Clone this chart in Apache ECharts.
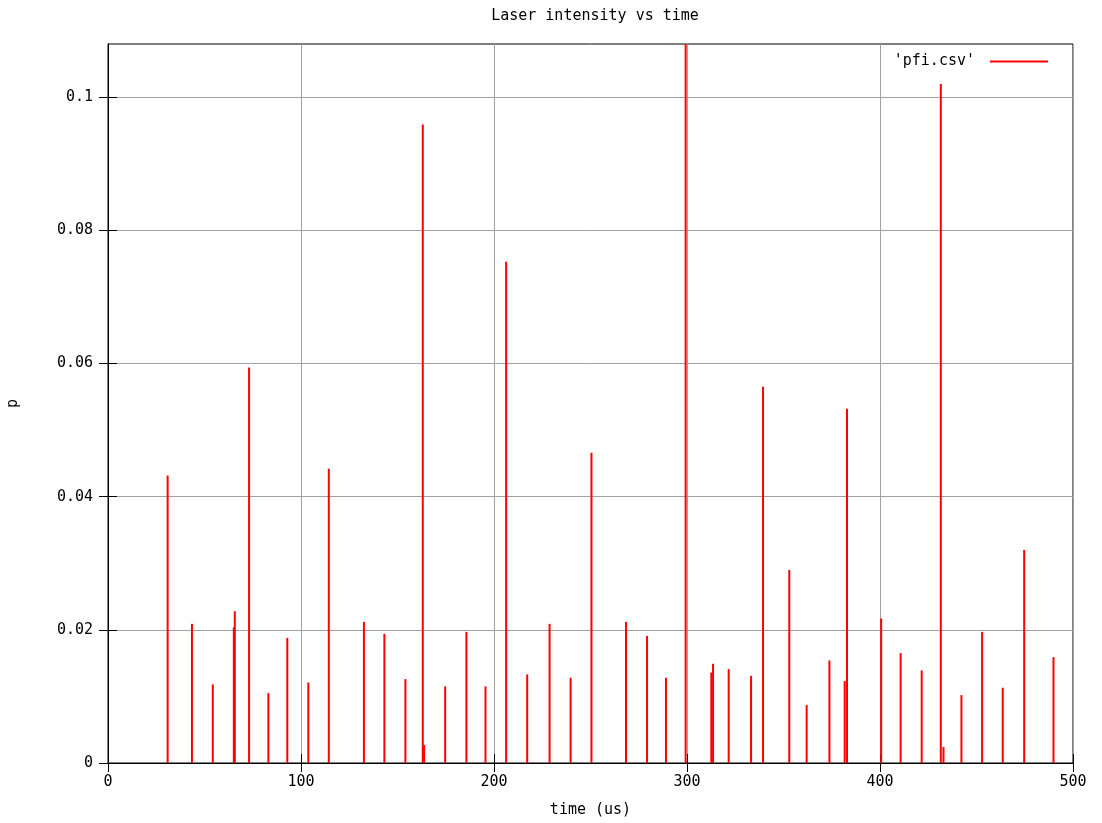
<!DOCTYPE html>
<html>
<head>
<meta charset="utf-8">
<script src="https://cdn.jsdelivr.net/npm/echarts@6/dist/echarts.min.js"></script>
<style>html,body{margin:0;padding:0;background:#fff;}#c{width:1102px;height:823px;}</style>
</head>
<body>
<div id="c"></div>
<script>
const times = [30.9, 43.5, 54.3, 65.2, 65.7, 73.1, 83.1, 92.9, 103.8, 114.4, 132.6, 143.2, 154.1, 163.1, 163.8, 174.7,
  185.7, 195.6, 206.3, 217.2, 228.8, 239.7, 250.5, 268.4, 279.3, 289.1, 299.3, 312.6, 313.5, 321.6, 333.2, 339.4,
  353.0, 362.0, 373.8, 381.7, 382.9, 400.6, 410.7, 421.6, 431.5, 432.9, 442.2, 452.9, 463.6, 474.7, 489.9];
const values = [0.0432, 0.0209, 0.0118, 0.0204, 0.0228, 0.0594, 0.0105, 0.0188, 0.0121, 0.0442, 0.0212, 0.0194, 0.0126, 0.0959, 0.0027, 0.0115,
  0.0197, 0.0115, 0.0753, 0.0133, 0.0209, 0.0128, 0.0466, 0.0212, 0.0191, 0.0128, 0.109, 0.0136, 0.0149, 0.0141, 0.0131, 0.0565,
  0.0290, 0.0087, 0.0154, 0.0123, 0.0532, 0.0217, 0.0165, 0.0139, 0.1020, 0.0024, 0.0102, 0.0197, 0.0113, 0.0320, 0.0159];
const xTicks = [0, 100, 200, 300, 400, 500];
const yTicks = [0, 0.02, 0.04, 0.06, 0.08, 0.1];
const seriesName = "'pfi.csv'";

const font = 'DejaVu Sans Mono';
const fs = 15;
const chart = echarts.init(document.getElementById('c'));
const data = times.map((t, i) => [t, values[i]]);
const xTick = {inside: true, length: 9, customValues: xTicks, lineStyle: {color: '#000', width: 1}};
const yTick = {inside: true, length: 9, customValues: yTicks, lineStyle: {color: '#000', width: 1}};
chart.setOption({
  animation: false,
  backgroundColor: '#fff',
  title: {
    text: 'Laser intensity vs time', left: 590, top: 4, textAlign: 'center',
    textStyle: {fontFamily: font, fontSize: fs, fontWeight: 'normal', color: '#000'}
  },
  legend: {
    data: [seriesName], right: 54, top: 54, align: 'right', padding: 0,
    itemWidth: 58, itemHeight: 2, icon: 'rect', itemGap: 10,
    textStyle: {fontFamily: font, fontSize: fs, color: '#000', padding: [0, 10, 0, 0]}
  },
  grid: {left: 108, right: 29, top: 44, bottom: 60, show: true, borderColor: '#000', borderWidth: 1,
    containLabel: false, outerBoundsMode: 'none'},
  xAxis: [{
    type: 'value', min: 0, max: 500, interval: 100,
    name: 'time (us)', nameLocation: 'middle', nameGap: 40,
    nameTextStyle: {fontFamily: font, fontSize: fs, color: '#000'},
    axisLine: {show: true, lineStyle: {color: '#000'}},
    axisTick: xTick,
    axisLabel: {fontFamily: font, fontSize: fs, color: '#000', margin: 12, customValues: xTicks},
    splitLine: {show: true, lineStyle: {color: '#a0a0a0', width: 1}}
  }, {
    type: 'value', min: 0, max: 500, interval: 100, position: 'top',
    axisLine: {show: true, lineStyle: {color: '#000'}},
    axisTick: xTick, axisLabel: {show: false}, splitLine: {show: false}
  }],
  yAxis: [{
    type: 'value', min: 0, max: 0.108, interval: 0.02,
    name: 'p', nameLocation: 'middle', nameGap: 87, nameRotate: 90,
    nameTextStyle: {fontFamily: font, fontSize: fs, color: '#000'},
    axisLine: {show: true, lineStyle: {color: '#000'}},
    axisTick: yTick,
    axisLabel: {fontFamily: font, fontSize: fs, color: '#000', margin: 15, customValues: yTicks,
      formatter: v => String(+(+v).toFixed(2))},
    splitLine: {show: true, lineStyle: {color: '#a0a0a0', width: 1}}
  }, {
    type: 'value', min: 0, max: 0.108, interval: 0.02, position: 'right',
    axisLine: {show: true, lineStyle: {color: '#000'}},
    axisTick: yTick, axisLabel: {show: false}, splitLine: {show: false}
  }],
  series: [{
    name: seriesName, type: 'bar', data: data, barWidth: 2, clip: true,
    itemStyle: {color: '#ff0000'}, xAxisIndex: 0, yAxisIndex: 0
  }]
});
</script>
</body>
</html>
